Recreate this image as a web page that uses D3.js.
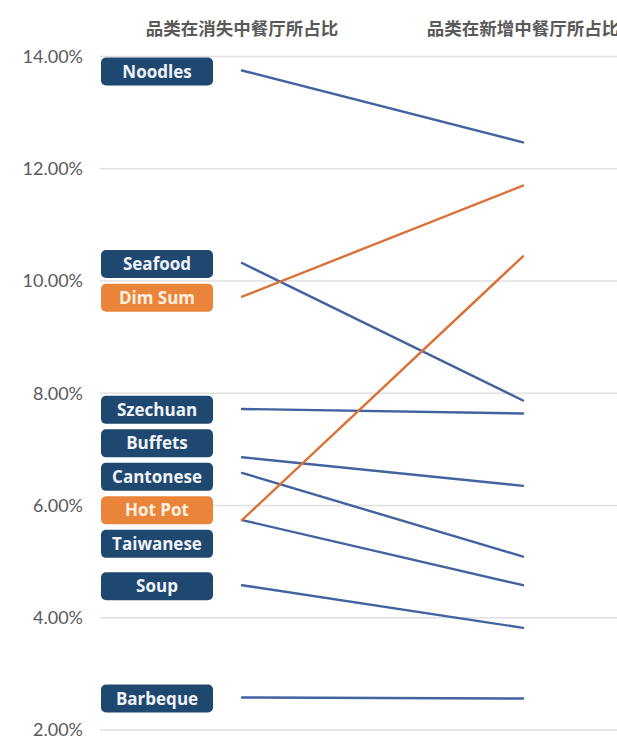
<!DOCTYPE html>
<html>
<head>
<meta charset="utf-8">
<script src="https://cdn.jsdelivr.net/npm/d3@7/dist/d3.min.js"></script>
<style>
  html, body { margin: 0; padding: 0; background: #fff; }
  svg { display: block; }
</style>
</head>
<body>
<script>
// ---- data ----
const categories = ["Noodles", "Seafood", "Dim Sum", "Szechuan", "Buffets", "Cantonese", "Hot Pot", "Taiwanese", "Soup", "Barbeque"];
const closedShare = [13.75, 10.32, 9.72, 7.72, 6.86, 6.58, 5.74, 5.74, 4.58, 2.58];   // 品类在消失中餐厅所占比
const newShare    = [12.47, 7.87, 11.70, 7.64, 6.35, 5.09, 10.44, 4.58, 3.82, 2.56]; // 品类在新增中餐厅所占比
const highlighted = ["Dim Sum", "Hot Pot"];
const columnTitles = ["品类在消失中餐厅所占比", "品类在新增中餐厅所占比"];
const yTicks = [2, 4, 6, 8, 10, 12, 14];

// ---- layout ----
const W = 617, H = 738;
const blue = "#4262a0", orange = "#da7238";
const boxBlue = "#1f4870", boxOrange = "#ea843a";

const svg = d3.select("body").append("svg").attr("width", W).attr("height", H);

const y = d3.scaleLinear().domain([2, 14]).range([730, 56.5]);
const x = d3.scalePoint().domain([0, 1]).range([242, 523]);

// gridlines
svg.append("g").selectAll("line").data(yTicks).join("line")
  .attr("x1", 100).attr("x2", W)
  .attr("y1", d => y(d)).attr("y2", d => y(d))
  .attr("stroke", "#e0e0e0").attr("stroke-width", 1.5);

// y-axis labels
const yAxis = d3.axisLeft(y).tickValues(yTicks).tickFormat(d => d3.format(".2f")(d) + "%").tickSize(0).tickPadding(0);
const ag = svg.append("g").attr("transform", "translate(83,0)").call(yAxis);
ag.select(".domain").remove();
ag.selectAll("text")
  .attr("font-family", "Lato, 'Open Sans', sans-serif")
  .attr("font-size", 18)
  .attr("fill", "#5a5a5a")
  .attr("dy", "0.33em");

// column titles
svg.append("g").selectAll("text").data(columnTitles).join("text")
  .attr("x", (d, i) => x(i)).attr("y", 27)
  .attr("text-anchor", "middle").attr("dominant-baseline", "central")
  .attr("font-family", "'Noto Sans CJK SC', sans-serif")
  .attr("font-weight", "bold").attr("font-size", 17.5)
  .attr("fill", "#5a5a5a")
  .text(d => d);

// slope lines (blue first, orange on top)
const rows = categories.map((c, i) => ({ name: c, a: closedShare[i], b: newShare[i], hi: highlighted.includes(c) }));
const order = rows.slice().sort((p, q) => (p.hi === q.hi ? 0 : p.hi ? 1 : -1));
svg.append("g").selectAll("line").data(order).join("line")
  .attr("x1", x(0)).attr("x2", x(1))
  .attr("y1", d => y(d.a)).attr("y2", d => y(d.b))
  .attr("stroke", d => d.hi ? orange : blue)
  .attr("stroke-width", 2.4)
  .attr("stroke-linecap", "round");

// label placement: avoid overlaps
const gap = 33.5;
const labels = rows.map(r => ({ ...r, ly: y(r.a) }));
labels.sort((p, q) => p.ly - q.ly);
for (let it = 0; it < 300; it++) {
  for (let i = 0; i < labels.length - 1; i++) {
    const d = labels[i + 1].ly - labels[i].ly;
    if (d < gap) {
      const push = (gap - d) / 2;
      labels[i].ly -= push;
      labels[i + 1].ly += push;
    }
  }
}

const bw = 112, bh = 28;
const lg = svg.append("g").selectAll("g").data(labels).join("g")
  .attr("transform", d => `translate(101,${d.ly - bh / 2 + 1})`);
lg.append("rect")
  .attr("width", bw).attr("height", bh).attr("rx", 5)
  .attr("fill", d => d.hi ? boxOrange : boxBlue);
lg.append("text")
  .attr("x", bw / 2).attr("y", bh / 2).attr("dy", "0.36em")
  .attr("text-anchor", "middle")
  .attr("font-family", "'Open Sans', sans-serif")
  .attr("font-weight", "bold").attr("font-size", 17)
  .attr("fill", d => d.hi ? "#fdf0e0" : "#f0f3f8")
  .text(d => d.name);
</script>
</body>
</html>
